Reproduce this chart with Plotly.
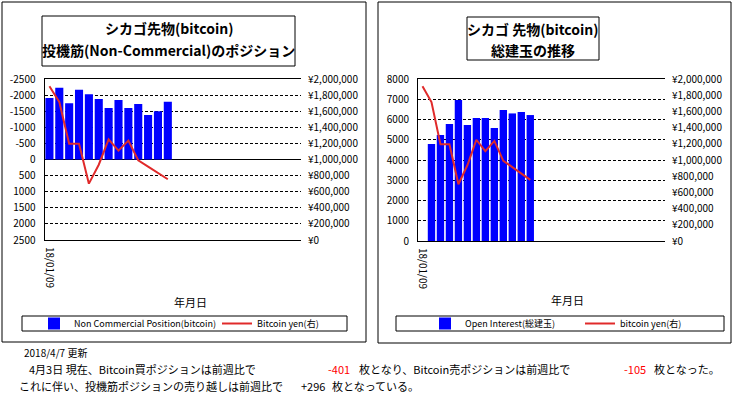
import plotly.graph_objects as go

# weekly dates (only the first one is labelled on the chart)
dates = ["18/01/09", "18/01/16", "18/01/23", "18/01/30", "18/02/06", "18/02/13", "18/02/20",
         "18/02/27", "18/03/06", "18/03/13", "18/03/20", "18/03/27", "18/04/03"]

# net non-commercial position (negative = net short, axis is reversed)
noncomm_pos = [-1910, -2230, -1750, -2170, -2030, -1880, -1600, -1850, -1600, -1720, -1380, -1500, -1790]

# open interest (no value for the first week)
open_interest = [None, 4790, 5235, 5780, 6960, 5730, 6070, 6070, 5580, 6470, 6300, 6370, 6220]

# bitcoin price in yen
btc_yen = [1910000, 1715000, 1195000, 1195000, 700000, 935000, 1250000, 1110000, 1235000,
           990000, 912000, 835000, 755000]

left_ticks = [-2500, -2000, -1500, -1000, -500, 0, 500, 1000, 1500, 2000, 2500]
left_ticktext = ["-2500", "-2000", "-1500", "-1000", "-500", "0", "500", "1000", "1500", "2000", "2500"]
oi_ticks = [0, 1000, 2000, 3000, 4000, 5000, 6000, 7000, 8000]

W, H = 740, 404
FONT = "Noto Sans CJK JP, sans-serif"
BLUE = "#0000ff"
RED = "#e02a2a"


def px(x):
    return x / W


def py(y):
    return 1 - y / H


fig = go.Figure()

# left chart
fig.add_trace(go.Bar(x=dates, y=noncomm_pos, name="Non Commercial Position(bitcoin)",
                     marker=dict(color=BLUE, line=dict(width=0)), xaxis="x", yaxis="y",
                     legend="legend"))
fig.add_trace(go.Scatter(x=dates, y=btc_yen, name="Bitcoin yen(右)", mode="lines",
                         line=dict(color=RED, width=2), xaxis="x", yaxis="y2", legend="legend"))

# right chart
fig.add_trace(go.Bar(x=dates, y=open_interest, name="Open Interest(総建玉)",
                     marker=dict(color=BLUE, line=dict(width=0)), xaxis="x2", yaxis="y3",
                     legend="legend2"))
fig.add_trace(go.Scatter(x=dates, y=btc_yen, name="bitcoin yen(右)", mode="lines",
                         line=dict(color=RED, width=2), xaxis="x2", yaxis="y4", legend="legend2"))

tickfont = dict(family=FONT, size=10, color="black")
xcommon = dict(type="category", tickmode="array", tickvals=[dates[0]], tickangle=90,
               ticks="", showgrid=False, showline=True, mirror=True, linecolor="black",
               linewidth=1, tickfont=tickfont, ticklabelstandoff=4, automargin=False)
ycommon = dict(showline=True, linecolor="black", linewidth=1, ticks="", tickfont=tickfont,
               ticklabelstandoff=6, automargin=False)
ycur = dict(ticks="", tickfont=tickfont, range=[0, 2000000], dtick=200000, tickprefix="¥",
            tickformat=",d", showgrid=False, showline=False, zeroline=False,
            ticklabelstandoff=6, automargin=False)

fig.update_layout(
    width=W, height=H,
    margin=dict(l=0, r=0, t=0, b=0, pad=0, autoexpand=False),
    paper_bgcolor="white", plot_bgcolor="white",
    font=dict(family=FONT, size=10, color="black"),
    bargap=0.18,
    xaxis=dict(domain=[px(44.5), px(301)], anchor="y", range=[-0.5, 25.5], **xcommon),
    yaxis=dict(domain=[py(240), py(79)], anchor="x", range=[2500, -2500],
               tickmode="array", tickvals=left_ticks, ticktext=left_ticktext,
               showgrid=True, gridcolor="black", griddash="3px,2px", gridwidth=1,
               zeroline=True, zerolinecolor="black", zerolinewidth=1, **ycommon),
    yaxis2=dict(overlaying="y", side="right", anchor="x", **ycur),
    xaxis2=dict(domain=[px(418), px(665)], anchor="y3", range=[-0.5, 27], **xcommon),
    yaxis3=dict(domain=[py(241), py(79)], anchor="x2", range=[0, 8000],
                tickmode="array", tickvals=oi_ticks,
                showgrid=True, gridcolor="black", griddash="3px,2px", gridwidth=1,
                zeroline=False, **ycommon),
    yaxis4=dict(overlaying="y3", side="right", anchor="x2", **ycur),
    legend=dict(orientation="h", x=px(34), xanchor="left", y=py(323.5), yanchor="middle",
                bgcolor="rgba(0,0,0,0)", font=dict(family=FONT, size=9),
                entrywidth=138, itemwidth=30, tracegroupgap=0),
    legend2=dict(orientation="h", x=px(425), xanchor="left", y=py(323.5), yanchor="middle",
                 bgcolor="rgba(0,0,0,0)", font=dict(family=FONT, size=9),
                 entrywidth=110, itemwidth=30, tracegroupgap=0),
)

# panel frames, title boxes, legend boxes
boxes = [(2, 2, 366, 342), (378, 2, 731, 343),
         (42, 16, 295, 66), (467, 17, 599, 60),
         (22, 316, 347, 331), (396, 316, 724, 331)]
for x0, y0, x1, y1 in boxes:
    fig.add_shape(type="rect", xref="paper", yref="paper",
                  x0=px(x0), y0=py(y1), x1=px(x1), y1=py(y0),
                  line=dict(color="black", width=1), fillcolor="rgba(0,0,0,0)")


def note(text, x, y, size=11, color="black", anchor="center"):
    fig.add_annotation(text=text, x=px(x), y=py(y), xref="paper", yref="paper",
                       showarrow=False, xanchor=anchor, yanchor="middle",
                       font=dict(family=FONT, size=size, color=color))


# titles
note("<b>シカゴ先物(bitcoin)</b>", 168.5, 28, size=14)
note("<b>投機筋(Non-Commercial)のポジション</b>", 168.5, 50, size=14)
note("<b>シカゴ 先物(bitcoin)</b>", 533, 29, size=14)
note("<b>総建玉の推移</b>", 533, 50, size=14)

# axis titles
note("年月日", 190, 302, size=11)
note("年月日", 567, 300, size=11)

# footer
note("2018/4/7 更新", 22, 352, size=10, anchor="left")
note("4月3日 現在、Bitcoin買ポジションは前週比で", 27, 369, anchor="left")
note("-401", 326, 369, color="#ff0000", anchor="left")
note("枚となり、Bitcoin売ポジションは前週比で", 357, 369, anchor="left")
note("-105", 622, 369, color="#ff0000", anchor="left")
note("枚となった。", 652, 369, anchor="left")
note("これに伴い、投機筋ポジションの売り越しは前週比で", 17, 386, anchor="left")
note("+296", 299, 386, anchor="left")
note("枚となっている。", 330, 386, anchor="left")

# the page body has a default 8px margin; remove it so the figure sits at the window origin
fig.write_html("out.html", config={"displayModeBar": False},
               post_script="document.body.style.margin='0';")
